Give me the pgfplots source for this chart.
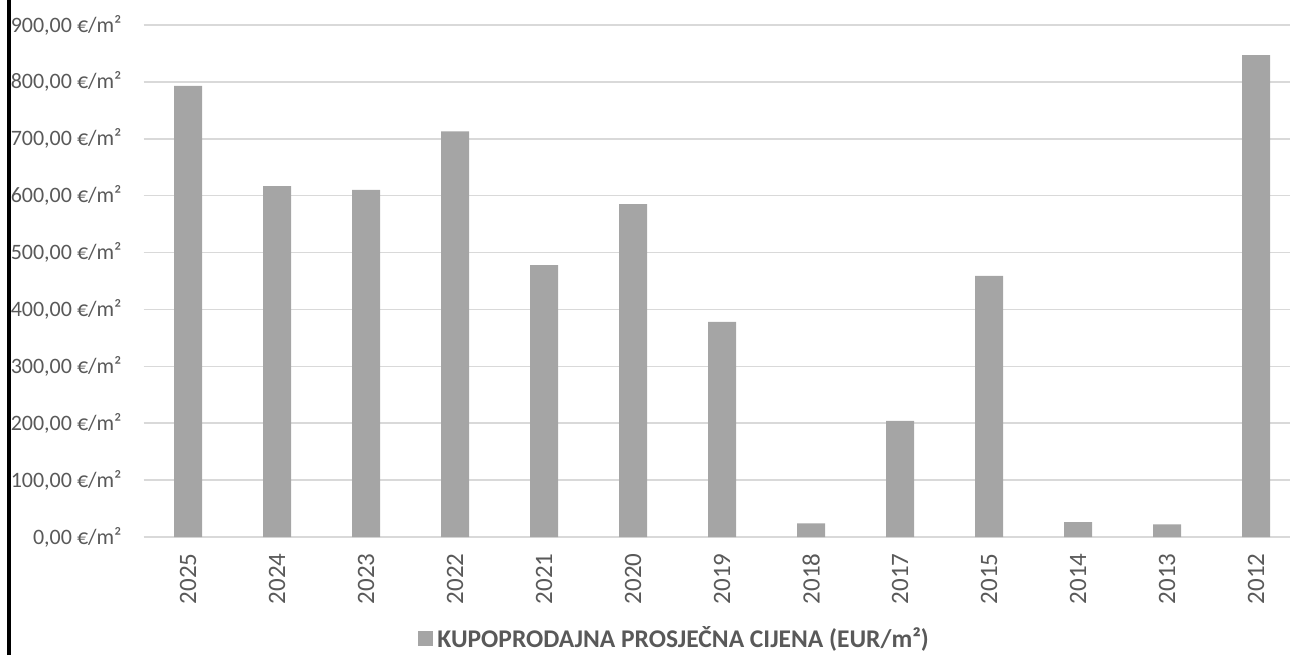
\documentclass[border=0pt]{standalone}
\usepackage{pgfplots}
\pgfplotsset{compat=1.18}
\usepackage{fontspec}
\setmainfont{Carlito}
\definecolor{barc}{HTML}{A5A5A5}
\definecolor{gridc}{HTML}{D9D9D9}
\definecolor{txtc}{HTML}{595959}
\begin{document}
\begin{tikzpicture}
\useasboundingbox (-71.75pt,-59pt) rectangle (573.25pt,268.5pt);
\draw[line width=2pt, black] (-67.25pt,-59pt) -- (-67.25pt,268.5pt);
\begin{axis}[
  width=573.25pt, height=256pt, scale only axis,
  xmin=-0.5, xmax=12.38, ymin=0, ymax=900,
  ytick={0,100,...,900},
  yticklabels={{0,00 €/m²},{100,00 €/m²},{200,00 €/m²},{300,00 €/m²},{400,00 €/m²},{500,00 €/m²},{600,00 €/m²},{700,00 €/m²},{800,00 €/m²},{900,00 €/m²}},
  xtick={0,1,...,12},
  xticklabels={2025,2024,2023,2022,2021,2020,2019,2018,2017,2015,2014,2013,2012},
  ymajorgrids, grid style={gridc, line width=0.75pt},
  axis line style={draw=none}, major tick length=0pt,
  yticklabel style={anchor=east, inner sep=0pt, text=txtc, font=\fontsize{11}{13}\selectfont},
  xticklabel style={rotate=90, anchor=east, inner sep=0pt, text=txtc, font=\fontsize{12.5}{14}\selectfont},
  yticklabel shift=10.75pt, xticklabel shift=8pt,
  ybar, bar width=14pt,
  legend style={at={(0.2394,-0.199)}, anchor=west, draw=none, fill=none, inner sep=0pt, font=\bfseries\fontsize{12.75}{14}\selectfont, text=txtc},
  legend image code/.code={\fill[barc] (0pt,-3.75pt) rectangle (7.5pt,3.75pt);},
]
\addplot[fill=barc, draw=none] coordinates {
(0,793) (1,617) (2,610) (3,713) (4,478) (5,585) (6,378) (7,24) (8,204) (9,459) (10,26) (11,22) (12,847)
};
\addlegendentry{KUPOPRODAJNA PROSJEČNA CIJENA (EUR/m²)}
\end{axis}
\end{tikzpicture}
\end{document}
